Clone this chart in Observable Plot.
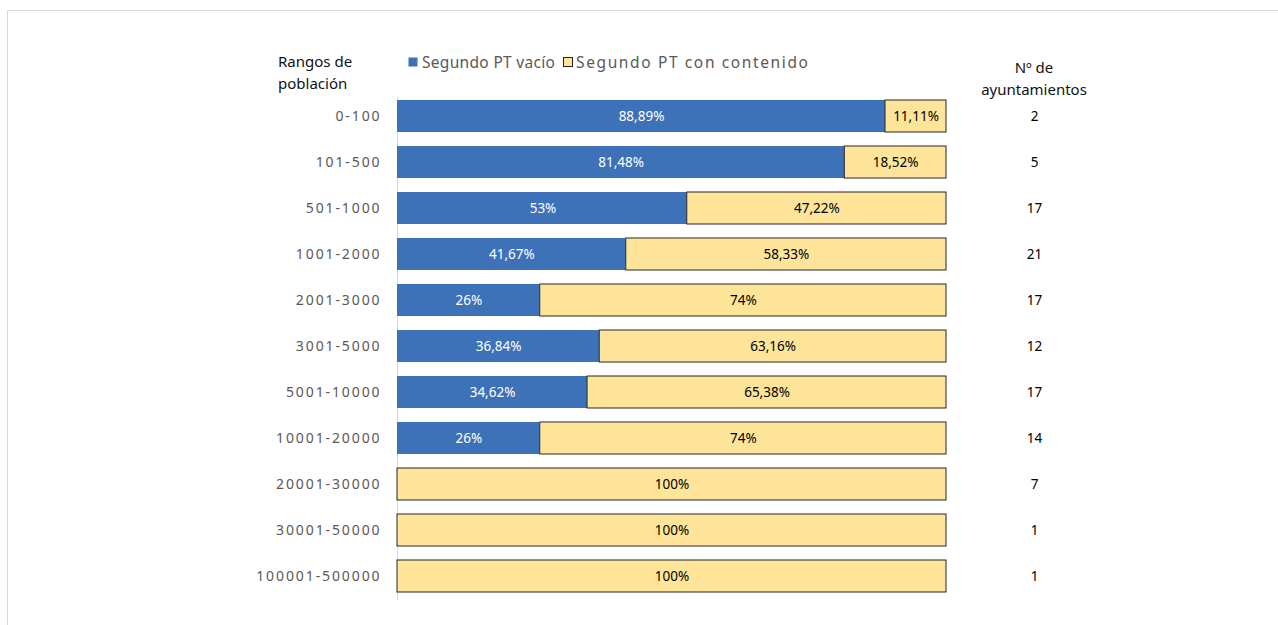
<!DOCTYPE html>
<html>
<head>
<meta charset="utf-8">
<script src="https://cdn.jsdelivr.net/npm/d3@7"></script>
<script src="https://cdn.jsdelivr.net/npm/@observablehq/plot@0.6"></script>
<style>
  html, body { margin: 0; padding: 0; background: #fff; overflow: hidden; }
  #wrap { position: relative; width: 1278px; height: 625px; }
  #frame { position: absolute; left: 7px; top: 10px; width: 1300px; height: 700px;
           border-top: 1.5px solid #d9d9d9; border-left: 1.5px solid #d9d9d9; box-sizing: border-box; }
  #chart { position: absolute; left: 0; top: 0; }
  .ylab text { letter-spacing: 1.9px; }
</style>
</head>
<body>
<div id="wrap"><div id="frame"></div><div id="chart"></div></div>
<script>
const rangos = ["0-100","101-500","501-1000","1001-2000","2001-3000","3001-5000","5001-10000","10001-20000","20001-30000","30001-50000","100001-500000"];
const vacio = [88.89, 81.48, 53, 41.67, 26, 36.84, 34.62, 26, 0, 0, 0];
const contenido = [11.11, 18.52, 47.22, 58.33, 74, 63.16, 65.38, 74, 100, 100, 100];
const ayuntamientos = [2, 5, 17, 21, 17, 12, 17, 14, 7, 1, 1];
const seriesNames = ["Segundo PT vacío", "Segundo PT con contenido"];

const BLUE = "#3d72b9";
const YELLOW = "#fee599";
const fmt = v => String(v).replace(".", ",") + "%";

const rows = rangos.map((r, i) => ({r, vacio: vacio[i], contenido: contenido[i], n: ayuntamientos[i]}));
const blueRows = rows.filter(d => d.vacio > 0);

const W = 1278, H = 625;
const font = "'Noto Sans', 'Open Sans', sans-serif";

const plot = Plot.plot({
  width: W,
  height: H,
  marginLeft: 397,
  marginRight: 332,
  marginTop: 86,
  marginBottom: 18,
  style: {fontFamily: font, fontSize: "13px", background: "transparent", overflow: "visible"},
  x: {domain: [0, 100], axis: null},
  y: {domain: rangos, padding: 0.3, axis: null},
  marks: [
    Plot.ruleX([0], {stroke: "#d9d9d9", strokeWidth: 1, insetTop: 11, insetBottom: 7}),
    Plot.barX(blueRows, {y: "r", x1: 0, x2: "vacio", fill: BLUE}),
    Plot.barX(rows, {y: "r", x1: d => 100 - d.contenido, x2: 100, fill: YELLOW, stroke: "#262626", strokeWidth: 1}),
    Plot.text(blueRows, {y: "r", x: d => d.vacio / 2, text: d => fmt(d.vacio), fill: "white", fontSize: 13.5}),
    Plot.text(rows, {y: "r", x: d => 100 - d.contenido / 2, text: d => fmt(d.contenido), fill: "black", fontSize: 13.5}),
    Plot.text(rows, {y: "r", x: 0, dx: -16, text: "r", textAnchor: "end", fill: "#595959", fontSize: 14, className: "ylab"}),
    Plot.text(rows, {y: "r", x: 100, dx: 88, text: d => String(d.n), fill: "black", fontSize: 13.5})
  ]
});
document.getElementById("chart").appendChild(plot);

// Headers and legend as SVG text in the same svg
const svg = d3.select(plot);
const g = svg.append("g").attr("font-family", font).attr("font-size", 15).attr("text-anchor", "start").attr("fill", "#111");
g.append("text").attr("x", 278).attr("y", 67).text("Rangos de");
g.append("text").attr("x", 278).attr("y", 89).text("población");
g.append("text").attr("x", 1034).attr("y", 73).attr("text-anchor", "middle").text("Nº de");
g.append("text").attr("x", 1034).attr("y", 95).attr("text-anchor", "middle").text("ayuntamientos");

const leg = svg.append("g").attr("font-family", font).attr("font-size", 15.5).attr("fill", "#595959").attr("text-anchor", "start");
leg.append("rect").attr("x", 408.5).attr("y", 57.5).attr("width", 9).attr("height", 9).attr("fill", BLUE);
leg.append("text").attr("x", 422).attr("y", 68).attr("textLength", 133).attr("lengthAdjust", "spacing").text(seriesNames[0]);
leg.append("rect").attr("x", 563.5).attr("y", 57.5).attr("width", 9).attr("height", 9).attr("fill", YELLOW).attr("stroke", "#262626");
leg.append("text").attr("x", 576).attr("y", 68).attr("textLength", 232).attr("lengthAdjust", "spacing").text(seriesNames[1]);
</script>
</body>
</html>
